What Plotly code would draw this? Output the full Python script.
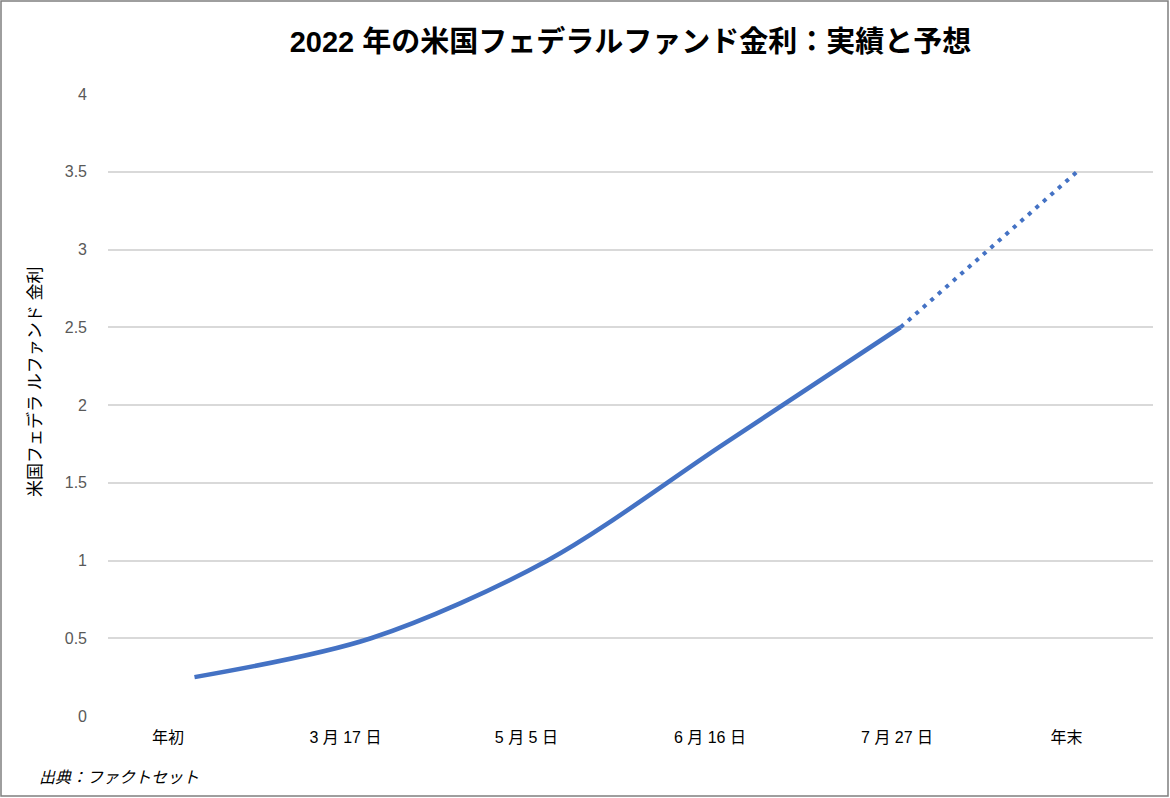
import plotly.graph_objects as go

categories = ["年初", "3 月 17 日", "5 月 5 日", "6 月 16 日", "7 月 27 日", "年末"]
rates = [0.25, 0.5, 1.0, 1.75, 2.5, 3.5]
actual_count = 5  # first five are actual, last segment is forecast

x_idx = list(range(len(categories)))
label_shift = [-0.15, -0.145, -0.12, -0.08, -0.02, -0.06]
tick_pos = [i + s for i, s in zip(x_idx, label_shift)]

BLUE = "#4472C4"
FONT = "Liberation Sans, Noto Sans CJK JP, sans-serif"

fig = go.Figure()
fig.add_trace(go.Scatter(
    x=x_idx[:actual_count], y=rates[:actual_count], mode="lines",
    line=dict(color=BLUE, width=4.5, shape="spline", smoothing=0.9),
    showlegend=False, hoverinfo="skip"))
fig.add_trace(go.Scatter(
    x=x_idx[actual_count - 1:], y=rates[actual_count - 1:], mode="lines",
    line=dict(color=BLUE, width=4, dash="4px,6px"),
    showlegend=False, hoverinfo="skip"))

L, R, T, B = 108, 17, 94, 82
W, H = 1170, 798
pw, ph = W - L - R, H - T - B

fig.update_layout(
    width=W, height=H,
    margin=dict(l=L, r=R, t=T, b=B),
    paper_bgcolor="white", plot_bgcolor="white",
    font=dict(family=FONT, color="black"),
    title=dict(text="<b>2022 年の米国フェデラルファンド金利：実績と予想</b>",
               x=0.5, xref="paper", xanchor="center",
               y=1 - 42 / H, yanchor="middle",
               font=dict(size=29, color="black", family=FONT)),
    xaxis=dict(range=[-0.49, 5.43], tickvals=tick_pos, ticktext=categories,
               showgrid=False, zeroline=False, showline=False,
               tickfont=dict(size=16, color="black"), ticks="", ticklabelstandoff=10),
    yaxis=dict(range=[0, 4], dtick=0.5, showgrid=True, gridcolor="#d9d9d9",
               gridwidth=1.5, zeroline=False, showline=False,
               tickfont=dict(size=16, color="#595959"), ticks="",
               ticklabelstandoff=20),
    annotations=[
        dict(text="米国フェデラ ルファンド 金利", textangle=-90,
             xref="paper", yref="paper",
             x=(35 - L) / pw, y=(H - B - 382) / ph,
             showarrow=False, font=dict(size=17, color="black"),
             xanchor="center", yanchor="middle"),
        dict(text="<i>出典：ファクトセット</i>",
             xref="paper", yref="paper",
             x=(37 - L) / pw, y=(H - B - 777) / ph,
             showarrow=False, font=dict(size=16, color="black"),
             xanchor="left", yanchor="middle"),
    ],
    shapes=[dict(type="rect", xref="paper", yref="paper",
                 x0=(1 - L) / pw, x1=(W - 2 - L) / pw,
                 y0=(H - B - (H - 2)) / ph, y1=(H - B - 1) / ph,
                 line=dict(color="#7f7f7f", width=1.5), fillcolor="rgba(0,0,0,0)",
                 layer="above")],
)

fig.write_html("out.html")
